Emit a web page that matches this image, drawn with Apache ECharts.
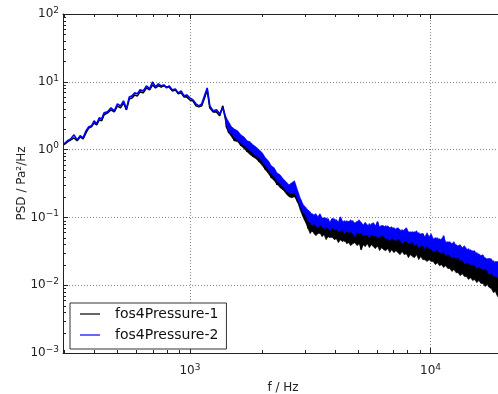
<!DOCTYPE html>
<html><head><meta charset="utf-8">
<script src="https://cdn.jsdelivr.net/npm/echarts@6/dist/echarts.min.js"></script>
<style>html,body{margin:0;padding:0;background:#fff}#c{width:498px;height:394px}</style>
</head><body><div id="c"></div>
<script>
// ---- data ----
const freqHz = [
300,310,320,330,340,350,360,370,380,390,400,410,420,430,440,455,470,485,500,515,530,545,560,575,590,605,620,
640,660,680,700,720,740,760,780,800,820,845,870,895,920,945,970,1000,1030,1060,1090,1120,1150,1180,1210,
1250,1290,1330,1370,1410,1450,1490,1530,1580,1630,1680,1730,1780,1830,1880,1940,2000,2060,2120,2180,2240,2300,
2370,2440,2510,2580,2650,2720,2800,2880,2960,3040,
3100,3160,3220,3280,3340,3400,3470,3540,3610,3680,
3750,3820,3900,3980,4060,4140,4220,4300,4390,4480,
4570,4660,4750,4850,4950,5050,5150,5250,5350,5460,
5570,5680,5790,5900,6020,6140,6260,6380,6510,6640,
6770,6900,7040,7180,7320,7470,7620,7770,7930,8090,
8250,8410,8580,8750,8930,9110,9290,9480,9670,9860,
10060,10260,10470,10680,10890,11110,11330,11560,11790,12030,
12270,12510,12760,13020,13280,13550,13820,14100,14380,14670,
14960,15260,15570,15880,16200,16520,16850,17190,17530,17880,
18240,18600,18970,19350,19740,20130
];
// fos4Pressure-1 (black) trace
const psdPressure1 = [
1.18,1.30,1.39,1.49,1.35,1.54,1.44,1.77,2.09,2.17,
2.48,2.32,2.75,2.66,3.26,3.48,3.86,3.60,4.42,4.13,
4.89,3.86,5.60,5.79,6.41,6.20,7.10,6.87,8.13,7.60,
9.0,8.13,8.71,8.41,8.71,8.41,8.41,7.35,7.60,6.64,
6.87,5.99,5.99,5.41,5.23,4.42,4.27,4.42,5.79,7.60,
4.13,3.60,3.60,3.15,4.42,2.66,1.77,1.89,1.35,1.54,
1.14,1.26,0.928,1.06,0.783,0.897,0.661,0.708,0.504,0.558,
0.384,0.425,0.303,0.336,0.256,0.274,0.209,0.247,0.265,0.170,
0.154,0.106,0.113,
0.0682,0.0957,0.0616,0.0894,0.0595,0.0835,0.0575,0.0781,0.0556,0.0755,
0.0520,0.0729,0.0502,0.0705,0.0486,0.0682,0.0469,0.0682,0.0439,0.0659,
0.0424,0.0659,0.0424,0.0637,0.0410,0.0637,0.0334,0.0616,0.0396,0.0616,
0.0396,0.0595,0.0383,0.0575,0.0370,0.0556,0.0358,0.0556,0.0346,0.0538,
0.0334,0.0538,0.0323,0.0520,0.0323,0.0502,0.0313,0.0486,0.0302,0.0469,
0.0282,0.0469,0.0282,0.0454,0.0273,0.0439,0.0264,0.0424,0.0246,0.0396,
0.0238,0.0383,0.0230,0.0370,0.0215,0.0346,0.0201,0.0334,0.0188,0.0313,
0.0182,0.0292,0.0170,0.0273,0.0159,0.0255,0.0148,0.0246,0.0134,0.0230,
0.0125,0.0215,0.0121,0.0201,0.0109,0.0188,0.0102,0.0176,0.00954,0.0164,
0.00861,0.0153,0.00727,0.0143,0.00680,0.0134
];
// fos4Pressure-2 (blue) trace
const psdPressure2 = [
1.22,1.35,1.44,1.65,1.39,1.60,1.49,1.89,2.17,2.24,
2.66,2.40,2.94,2.84,3.48,3.60,4.13,3.73,4.73,4.42,
5.23,3.99,5.99,6.20,6.87,6.64,7.60,7.35,8.71,7.86,
9.97,8.41,9.31,8.71,9.0,8.13,8.71,7.60,7.86,6.87,
7.35,6.20,6.41,5.79,5.41,4.73,4.42,4.73,6.20,8.13,
4.42,3.73,3.86,3.37,4.13,2.94,1.96,2.09,1.54,1.77,
1.30,1.44,1.06,1.22,0.928,1.03,0.783,0.838,0.597,0.640,
0.455,0.504,0.359,0.397,0.293,0.324,0.239,0.293,0.313,0.195,
0.182,0.121,0.130,
0.1255,0.0835,0.1134,0.0808,0.1059,0.0755,0.1096,0.0755,0.0990,0.0729,
0.0957,0.0705,0.0957,0.0682,0.0925,0.0659,0.0990,0.0659,0.0894,0.0637,
0.0864,0.0616,0.0894,0.0595,0.0864,0.0595,0.0835,0.0575,0.0835,0.0556,
0.0808,0.0556,0.0808,0.0538,0.0864,0.0538,0.0755,0.0520,0.0755,0.0502,
0.0705,0.0502,0.0705,0.0486,0.0682,0.0469,0.0659,0.0469,0.0682,0.0454,
0.0616,0.0439,0.0616,0.0424,0.0595,0.0410,0.0575,0.0383,0.0556,0.0370,
0.0520,0.0358,0.0502,0.0346,0.0486,0.0313,0.0538,0.0302,0.0439,0.0282,
0.0410,0.0273,0.0396,0.0255,0.0383,0.0238,0.0358,0.0223,0.0346,0.0215,
0.0323,0.0201,0.0302,0.0188,0.0273,0.0182,0.0255,0.0170,0.0246,0.0159,
0.0230,0.0143,0.0215,0.0134,0.0201,0.0125
];
// dense-noise envelope above 1.4 kHz (upper / lower edge of each band)
const bandFreqHz = [
1410,1450,1490,1530,1580,1630,1680,1730,1780,1830,1880,1940,2000,2060,2120,2180,2240,2300,
2370,2440,2510,2580,2650,2720,2800,2880,2960,3040,
3100,3160,3220,3280,3340,3400,3470,3540,3610,3680,
3750,3820,3900,3980,4060,4140,4220,4300,4390,4480,
4570,4660,4750,4850,4950,5050,5150,5250,5350,5460,
5570,5680,5790,5900,6020,6140,6260,6380,6510,6640,
6770,6900,7040,7180,7320,7470,7620,7770,7930,8090,
8250,8410,8580,8750,8930,9110,9290,9480,9670,9860,
10060,10260,10470,10680,10890,11110,11330,11560,11790,12030,
12270,12510,12760,13020,13280,13550,13820,14100,14380,14670,
14960,15260,15570,15880,16200,16520,16850,17190,17530,17880,
18240,18600,18970,19350,19740,20130
];
const band2Upper = [
3.04,2.57,2.17,2.02,1.89,1.65,1.54,1.35,1.30,1.18,1.10,0.993,0.897,0.757,0.684,0.577,0.540,0.455,
0.425,0.372,0.336,0.303,0.324,0.347,0.256,0.189,0.154,0.139,
0.1255,0.1213,0.1096,0.1096,0.1134,0.1024,0.1134,0.0990,0.0957,0.0990,
0.0925,0.0864,0.0957,0.0957,0.0894,0.0864,0.1024,0.0894,0.0835,0.0894,
0.0864,0.0925,0.0835,0.0835,0.0864,0.0925,0.0835,0.0781,0.0835,0.0781,
0.0729,0.0808,0.0835,0.0755,0.0864,0.0729,0.0755,0.0755,0.0705,0.0755,
0.0705,0.0729,0.0659,0.0682,0.0705,0.0659,0.0616,0.0659,0.0705,0.0616,
0.0595,0.0616,0.0595,0.0637,0.0556,0.0575,0.0575,0.0520,0.0595,0.0520,
0.0575,0.0486,0.0486,0.0502,0.0454,0.0486,0.0520,0.0439,0.0424,0.0439,
0.0410,0.0439,0.0383,0.0383,0.0396,0.0358,0.0383,0.0346,0.0323,0.0334,
0.0313,0.0323,0.0282,0.0292,0.0273,0.0282,0.0246,0.0246,0.0246,0.0246,
0.0215,0.0223,0.0223,0.0208,0.0215,0.0188
];
const band2Lower = [
2.40,1.89,1.71,1.49,1.39,1.26,1.14,1.06,0.960,0.897,0.810,0.757,0.661,0.577,0.504,0.440,0.397,0.347,
0.313,0.283,0.247,0.231,0.223,0.231,0.189,0.144,0.1173,0.1059,
0.0864,0.0864,0.0755,0.0808,0.0755,0.0705,0.0781,0.0729,0.0682,0.0705,
0.0705,0.0637,0.0705,0.0659,0.0682,0.0616,0.0637,0.0659,0.0575,0.0637,
0.0595,0.0616,0.0575,0.0520,0.0616,0.0575,0.0595,0.0538,0.0556,0.0556,
0.0502,0.0575,0.0538,0.0538,0.0502,0.0520,0.0538,0.0538,0.0486,0.0486,
0.0454,0.0502,0.0469,0.0454,0.0486,0.0469,0.0410,0.0439,0.0454,0.0410,
0.0424,0.0439,0.0383,0.0410,0.0358,0.0383,0.0383,0.0346,0.0383,0.0346,
0.0346,0.0313,0.0323,0.0334,0.0302,0.0302,0.0313,0.0273,0.0292,0.0273,
0.0255,0.0264,0.0246,0.0264,0.0230,0.0238,0.0208,0.0215,0.0215,0.0201,
0.0201,0.0201,0.0176,0.0194,0.0176,0.0170,0.0176,0.0164,0.0143,0.0153,
0.0138,0.0134,0.0134,0.0117,0.0121,0.0121
];
const band1Upper = [
2.75,2.32,1.96,1.83,1.71,1.49,1.39,1.22,1.18,1.06,0.993,0.897,0.810,0.684,0.618,0.522,0.487,0.411,
0.384,0.336,0.303,0.274,0.283,0.293,0.231,0.170,0.139,0.1173,
0.0957,0.0957,0.0835,0.0894,0.0835,0.0781,0.0864,0.0808,0.0755,0.0781,
0.0781,0.0705,0.0781,0.0729,0.0755,0.0682,0.0705,0.0729,0.0637,0.0705,
0.0659,0.0682,0.0637,0.0575,0.0682,0.0637,0.0659,0.0595,0.0616,0.0616,
0.0556,0.0637,0.0595,0.0595,0.0556,0.0575,0.0595,0.0595,0.0538,0.0538,
0.0502,0.0556,0.0520,0.0502,0.0538,0.0520,0.0454,0.0486,0.0502,0.0454,
0.0469,0.0486,0.0424,0.0454,0.0396,0.0424,0.0424,0.0383,0.0424,0.0383,
0.0383,0.0346,0.0358,0.0370,0.0334,0.0334,0.0346,0.0302,0.0323,0.0302,
0.0282,0.0292,0.0273,0.0292,0.0255,0.0264,0.0230,0.0238,0.0238,0.0223,
0.0223,0.0223,0.0194,0.0215,0.0194,0.0188,0.0194,0.0182,0.0159,0.0170,
0.0153,0.0148,0.0148,0.0129,0.0134,0.0134
];
const band1Lower = [
2.17,1.77,1.54,1.35,1.30,1.14,1.03,0.928,0.838,0.783,0.732,0.661,0.577,0.504,0.440,0.384,0.347,0.313,
0.274,0.256,0.223,0.202,0.195,0.202,0.170,0.1255,0.0990,0.0808,
0.0682,0.0575,0.0637,0.0575,0.0538,0.0575,0.0595,0.0520,0.0556,0.0469,
0.0520,0.0502,0.0520,0.0469,0.0486,0.0424,0.0469,0.0439,0.0469,0.0410,
0.0424,0.0383,0.0410,0.0424,0.0383,0.0410,0.0334,0.0396,0.0370,0.0410,
0.0358,0.0396,0.0370,0.0346,0.0383,0.0323,0.0358,0.0334,0.0323,0.0346,
0.0302,0.0334,0.0302,0.0323,0.0302,0.0282,0.0313,0.0282,0.0292,0.0255,
0.0282,0.0264,0.0255,0.0282,0.0238,0.0264,0.0238,0.0238,0.0223,0.0238,
0.0223,0.0223,0.0201,0.0215,0.0194,0.0201,0.0182,0.0194,0.0176,0.0176,
0.0159,0.0170,0.0153,0.0153,0.0138,0.0148,0.0134,0.0134,0.0121,0.0129,
0.0117,0.0121,0.0109,0.0117,0.01056,0.01056,0.00954,0.0102,0.00922,0.00891,
0.00778,0.00804,0.00680,0.00680,0.00614,0.00657
];
const seriesNames = ['fos4Pressure-1', 'fos4Pressure-2'];
const xRange = [297, 20000];
const yRange = [0.001, 100];
const xMinorTicks = [300,400,500,600,700,800,900,2000,3000,4000,5000,6000,7000,8000,9000];
const yMinorTicks = [0.002,0.003,0.004,0.005,0.006,0.007,0.008,0.009,
  0.02,0.03,0.04,0.05,0.06,0.07,0.08,0.09,
  0.2,0.3,0.4,0.5,0.6,0.7,0.8,0.9,
  2,3,4,5,6,7,8,9,
  20,30,40,50,60,70,80,90];
const xTitle = 'f / Hz';
const yTitle = 'PSD / Pa²/Hz';

// ---- chart ----
const FONT = 'DejaVu Sans';
const chart = echarts.init(document.getElementById('c'), null, {renderer: 'canvas'});
function expLabel(v) {
  const e = Math.log10(v);
  const r = Math.round(e);
  if (Math.abs(e - r) > 1e-6) return '';
  return '{b|10}{s|' + (r < 0 ? '\u2212' + (-r) : r) + '}';
}
const richLabel = {
  b: {fontSize: 12, lineHeight: 16, fontFamily: FONT, color: '#222'},
  s: {fontSize: 9, lineHeight: 9, verticalAlign: 'top', fontFamily: FONT, color: '#222'}
};
const pairs = (vals) => freqHz.map((f, i) => [f, vals[i]]);
function bandSeries(upper, lower, color, z) {
  return {
    type: 'custom', z: z, silent: true, clip: true,
    data: [[1000, 1]], encode: {x: 0, y: 1},
    renderItem: function (params, api) {
      const pts = [];
      for (let i = 0; i < bandFreqHz.length; i++) pts.push(api.coord([bandFreqHz[i], upper[i]]));
      for (let i = bandFreqHz.length - 1; i >= 0; i--) pts.push(api.coord([bandFreqHz[i], lower[i]]));
      return {type: 'polygon', shape: {points: pts}, style: {fill: color, stroke: color, lineWidth: 0.6}};
    }
  };
}

chart.setOption({
  animation: false,
  backgroundColor: '#fff',
  textStyle: {fontFamily: FONT},
  grid: {left: 63, top: 14, width: 440, height: 339, containLabel: false, outerBoundsMode: 'none'},
  legend: {
    left: 70, top: 303, orient: 'vertical',
    data: seriesNames,
    icon: 'rect', itemWidth: 20, itemHeight: 1.2, itemGap: 5,
    padding: [3, 8, 6, 10],
    backgroundColor: '#fff', borderColor: '#333', borderWidth: 1, borderRadius: 0,
    textStyle: {fontFamily: FONT, fontSize: 14, color: '#111', lineHeight: 16, padding: [0, 0, 0, 10]}
  },
  xAxis: [{
    type: 'log', logBase: 10, min: xRange[0], max: xRange[1],
    name: xTitle, nameLocation: 'middle', nameGap: 29,
    nameTextStyle: {fontFamily: FONT, fontSize: 12, color: '#222'},
    axisLine: {show: true, lineStyle: {color: '#222', width: 1}},
    axisTick: {show: true, inside: true, length: 5, lineStyle: {color: '#222'}},
    axisLabel: {show: true, margin: 10, formatter: expLabel, rich: richLabel, showMinLabel: true, showMaxLabel: true},
    splitLine: {show: true, lineStyle: {color: '#888', type: [1, 2], width: 1}},
    minorTick: {show: false}
  }, {
    type: 'log', logBase: 10, min: xRange[0], max: xRange[1], position: 'top',
    axisLine: {show: true, lineStyle: {color: '#222', width: 1}},
    axisTick: {show: true, inside: true, length: 5, lineStyle: {color: '#222'}},
    axisLabel: {show: false}, splitLine: {show: false}
  }],
  yAxis: [{
    type: 'log', logBase: 10, min: yRange[0], max: yRange[1],
    name: yTitle, nameLocation: 'middle', nameGap: 35, nameMoveOverlap: false,
    nameTextStyle: {fontFamily: FONT, fontSize: 12, color: '#222'},
    axisLine: {show: true, lineStyle: {color: '#222', width: 1}},
    axisTick: {show: true, inside: true, length: 5, lineStyle: {color: '#222'}},
    axisLabel: {show: true, margin: 4, formatter: expLabel, rich: richLabel},
    splitLine: {show: true, lineStyle: {color: '#888', type: [1, 2], width: 1}}
  }],
  series: [{
    name: seriesNames[0], type: 'line', data: pairs(psdPressure1),
    symbol: 'none', showSymbol: false, color: '#000000',
    lineStyle: {color: '#000000', width: 1.6}, z: 2
  },
  bandSeries(band1Upper, band1Lower, '#000000', 2),
  {
    name: seriesNames[1], type: 'line', data: pairs(psdPressure2),
    symbol: 'none', showSymbol: false, color: '#0000ff',
    lineStyle: {color: '#0000ff', width: 1.6}, z: 3
  },
  bandSeries(band2Upper, band2Lower, '#0000ff', 3)
  ]
});

// minor ticks on the log axes, positioned through the axes' own scales
(function addMinorTicks() {
  const els = [];
  const yB = chart.convertToPixel({yAxisIndex: 0}, yRange[0]);
  const yT = chart.convertToPixel({yAxisIndex: 0}, yRange[1]);
  const xL = chart.convertToPixel({xAxisIndex: 0}, xRange[0]);
  const st = {stroke: '#222', lineWidth: 1};
  xMinorTicks.forEach(v => {
    const px = Math.round(chart.convertToPixel({xAxisIndex: 0}, v)) + 0.5;
    els.push({type: 'line', silent: true, z: 10, shape: {x1: px, y1: yB, x2: px, y2: yB - 3}, style: st});
    els.push({type: 'line', silent: true, z: 10, shape: {x1: px, y1: yT, x2: px, y2: yT + 3}, style: st});
  });
  yMinorTicks.forEach(v => {
    const py = Math.round(chart.convertToPixel({yAxisIndex: 0}, v)) + 0.5;
    els.push({type: 'line', silent: true, z: 10, shape: {x1: xL, y1: py, x2: xL + 3, y2: py}, style: st});
  });
  chart.setOption({graphic: els});
})();
</script>
</body></html>
